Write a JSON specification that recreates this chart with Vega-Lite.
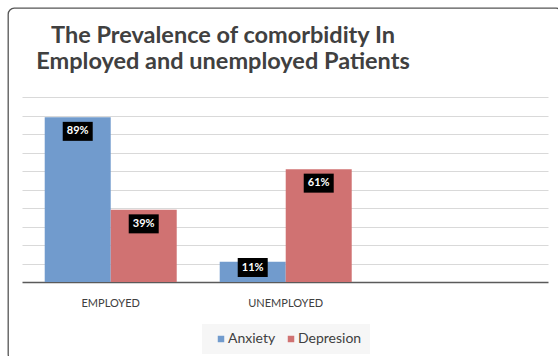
{
  "$schema": "https://vega.github.io/schema/vega-lite/v6.json",
  "autosize": {"type": "none"},
  "width": 554,
  "height": 352,
  "padding": {"left": 8, "top": 8, "right": -4, "bottom": -4},
  "background": "white",
  "title": {
    "text": ["The Prevalence of comorbidity In", "Employed and unemployed Patients"],
    "anchor": "start",
    "frame": "group",
    "align": "center",
    "dx": 215,
    "offset": -65,
    "font": "Lato",
    "fontSize": 23.5,
    "fontWeight": "bold",
    "color": "#404040",
    "lineHeight": 26
  },
  "data": {
    "values": [
      {"Status": "EMPLOYED", "Condition": "Anxiety", "Value": 0.89},
      {"Status": "EMPLOYED", "Condition": "Depresion", "Value": 0.39},
      {"Status": "UNEMPLOYED", "Condition": "Anxiety", "Value": 0.11},
      {"Status": "UNEMPLOYED", "Condition": "Depresion", "Value": 0.61}
    ]
  },
  "encoding": {
    "x": {
      "field": "Status",
      "type": "nominal",
      "scale": {"domain": ["EMPLOYED", "UNEMPLOYED", " "], "paddingInner": 0.2457, "paddingOuter": 0.2057, "align": 0.51},
      "axis": {
        "title": null,
        "orient": "bottom",
        "offset": -78,
        "domain": false,
        "ticks": false,
        "tickSize": 0,
        "labelPadding": 15,
        "labelAngle": 0,
        "labelFont": "Lato",
        "labelFontSize": 11,
        "labelColor": "#404040"
      }
    },
    "xOffset": {"field": "Condition", "type": "nominal", "scale": {"paddingInner": 0, "paddingOuter": 0}},
    "y": {
      "field": "Value",
      "type": "quantitative",
      "scale": {"domain": [-0.4216, 1.4811], "nice": false, "zero": false},
      "axis": {
        "title": null,
        "orient": "left",
        "offset": -540,
        "values": [0, 0.1, 0.2, 0.3, 0.4, 0.5, 0.6, 0.7, 0.8, 0.9, 1],
        "labels": false,
        "domain": false,
        "grid": false,
        "tickSize": 526,
        "tickColor": {"condition": {"test": "datum.value === 0", "value": "#5a5a5a"}, "value": "#d9d9d9"},
        "tickWidth": {"condition": {"test": "datum.value === 0", "value": 1.6}, "value": 1.2}
      }
    }
  },
  "layer": [
    {
      "mark": {"type": "bar"},
      "encoding": {
        "y2": {"datum": 0},
        "color": {
          "field": "Condition",
          "type": "nominal",
          "scale": {"domain": ["Anxiety", "Depresion"], "range": ["#719bcd", "#d07272"]},
          "legend": {
            "title": null,
            "orient": "none",
            "direction": "horizontal",
            "legendX": 194,
            "legendY": 316,
            "fillColor": "#f6f6f6",
            "padding": 8,
            "symbolType": "square",
            "symbolSize": 42,
            "symbolOffset": 4,
            "labelOffset": 0,
            "columnPadding": 4,
            "labelFont": "Lato",
            "labelFontSize": 14,
            "labelColor": "#404040"
          }
        }
      }
    },
    {
      "mark": {
        "type": "point",
        "shape": "M-1.5,-0.95H1.5V0.95H-1.5Z",
        "size": 400,
        "filled": true,
        "fill": "black",
        "opacity": 1,
        "strokeWidth": 0,
        "yOffset": {"expr": "min(14, datum.Value * 185 - 14.5)"}
      }
    },
    {
      "mark": {
        "type": "text",
        "yOffset": {"expr": "min(14, datum.Value * 185 - 14.5)"},
        "baseline": "middle",
        "align": "center",
        "font": "Lato",
        "fontSize": 11,
        "fontWeight": "bold",
        "color": "white"
      },
      "encoding": {"text": {"field": "Value", "type": "quantitative", "format": ".0%"}}
    }
  ],
  "config": {
    "view": {"stroke": "#555555", "strokeWidth": 1.3, "cornerRadius": 6, "fill": "white"}
  }
}
